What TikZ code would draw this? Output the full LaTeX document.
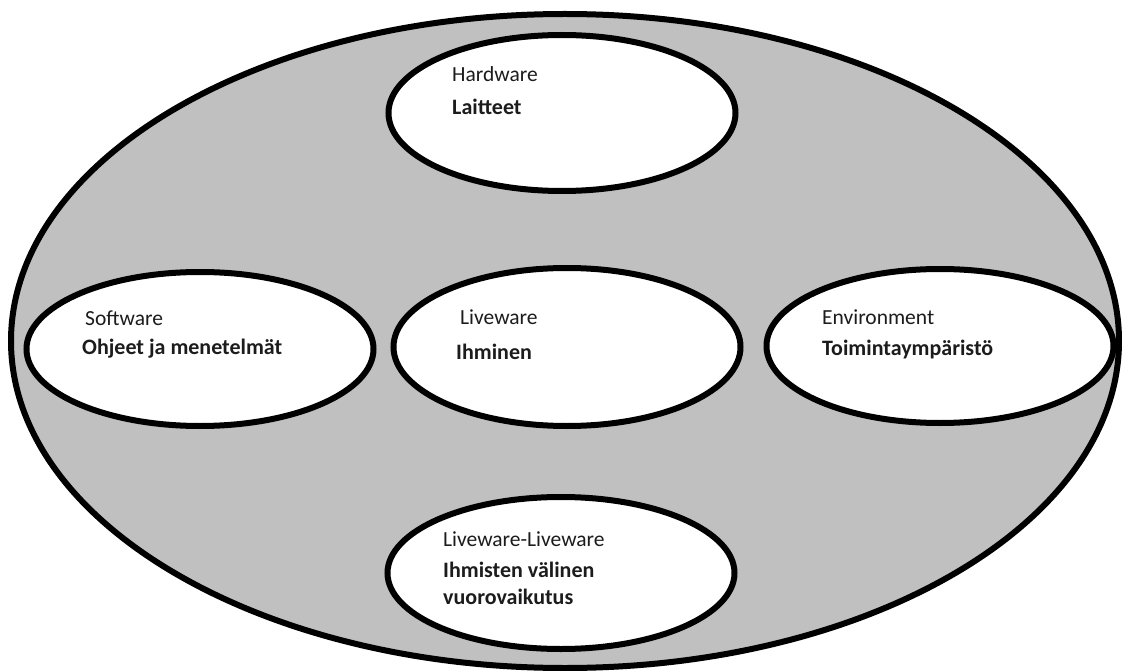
\documentclass[tikz,border=0pt]{standalone}
\usepackage{fontspec}
\setmainfont{Carlito}
\usepackage{tikz}
\usetikzlibrary{shapes.geometric}
\definecolor{shellgray}{RGB}{192,192,192}
\definecolor{inkgray}{RGB}{28,28,28}

\begin{document}
\begin{tikzpicture}
        [
            x = 1pt, y = -1pt,
            oval/.style = {ellipse, draw=black, line width=6pt, fill=white, inner sep=0pt, minimum width=347pt, minimum height=154pt},
            engl/.style = {anchor=base west, inner sep=0pt, text=inkgray, font=\fontsize{21.5}{26}\selectfont},
            finn/.style = {engl, align=left, font=\fontsize{22}{27}\selectfont\bfseries}
        ]
        \useasboundingbox (0, 0) rectangle (1122, 671);

        \node [oval, fill=shellgray, minimum width=1108pt, minimum height=654pt] at (565, 341) (shell) {};

        \node [oval, minimum height=156pt] at (562, 113) (ovalHw) {};
        \node [oval] at (200, 349) (ovalSw) {};
        \node [oval, minimum height=158pt] at (567, 347) (ovalLw) {};
        \node [oval] at (940, 346) (ovalEnv) {};
        \node [oval, minimum height=152pt] at (561, 573) (ovalLL) {};

        \node [engl] at (452, 82) (engHw) {Hardware};
        \node [finn] at (452, 115) (finHw) {Laitteet};
        \node [engl] at (85, 325) (engSw) {Software};
        \node [finn] at (82, 354) (finSw) {Ohjeet ja menetelmät};
        \node [engl] at (460, 324) (engLw) {Liveware};
        \node [finn] at (456, 359) (finLw) {Ihminen};
        \node [engl] at (822, 324) (engEnv) {Environment};
        \node [finn] at (822, 355) (finEnv) {Toimintaympäristö};
        \node [engl] at (443, 546) (engLL) {Liveware-Liveware};
        % base of a two-line node sits on its last line
        \node [finn] at (443, 604) (finLL) {Ihmisten välinen\\vuorovaikutus};
    \end{tikzpicture}
\end{document}
